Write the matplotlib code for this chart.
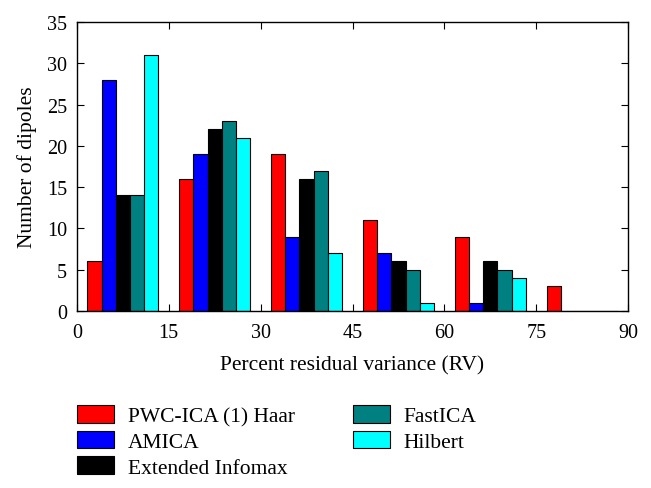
import numpy as np
import matplotlib.pyplot as plt

plt.rcParams['font.family'] = ['Liberation Serif', 'DejaVu Serif']

bin_centers = [7.5, 22.5, 37.5, 52.5, 67.5, 82.5]
methods = ["PWC-ICA (1) Haar", "AMICA", "Extended Infomax", "FastICA", "Hilbert"]
colors = ["#ff0000", "#0000ff", "#000000", "#008080", "#00ffff"]
counts = [
    [6, 16, 19, 11, 9, 3],   # PWC-ICA (1) Haar
    [28, 19, 9, 7, 1, 0],    # AMICA
    [14, 22, 16, 6, 6, 0],   # Extended Infomax
    [14, 23, 17, 5, 5, 0],   # FastICA
    [31, 21, 7, 1, 4, 0],    # Hilbert
]
xticks = [0, 15, 30, 45, 60, 75, 90]
yticks = [0, 5, 10, 15, 20, 25, 30, 35]

fig = plt.figure(figsize=(6.51, 4.89), dpi=100)
ax = fig.add_axes([0.118, 0.362, 0.847, 0.591])

n = len(methods)
width = 15 * min(0.8, n / (n + 1.5)) / n
x = np.array(bin_centers)
for i, (name, col, vals) in enumerate(zip(methods, colors, counts)):
    ax.bar(x + (i - (n - 1) / 2) * width, vals, width, color=col,
           edgecolor="black", linewidth=0.8, label=name)

ax.set_xlim(0, 90)
ax.set_ylim(0, 35)
ax.set_xticks(xticks)
ax.set_yticks(yticks)
ax.tick_params(direction="in", top=True, right=True, labelsize=14.5,
               length=5, width=0.8, pad=7)
ax.tick_params(axis="x", pad=9)
ax.set_xlabel("Percent residual variance (RV)", fontsize=15.5, labelpad=9)
ax.set_ylabel("Number of dipoles", fontsize=15.5, labelpad=7)
for s in ax.spines.values():
    s.set_linewidth(1.0)

handles, labels = ax.get_legend_handles_labels()
leg_kw = dict(frameon=False, loc="upper left", fontsize=15.5, borderpad=0,
              borderaxespad=0, handlelength=1.72, handleheight=0.9,
              handletextpad=0.65, labelspacing=0.2)
fig.legend(handles[:3], labels[:3], bbox_to_anchor=(0.118, 0.170), **leg_kw)
fig.legend(handles[3:], labels[3:], bbox_to_anchor=(0.542, 0.170), **leg_kw)

fig.savefig("out.png", dpi=100)
